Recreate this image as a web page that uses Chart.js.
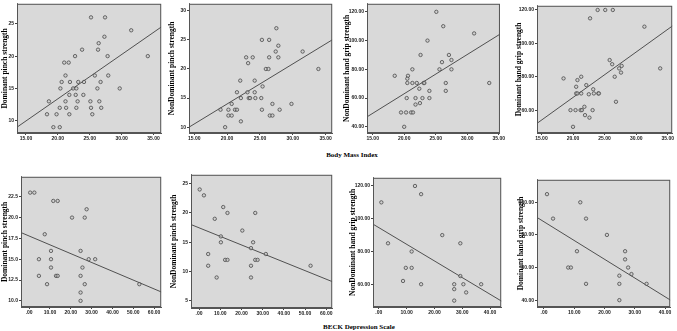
<!DOCTYPE html>
<html>
<head>
<meta charset="utf-8">
<script src="https://cdn.jsdelivr.net/npm/chart.js@4.4.1/dist/chart.umd.min.js"></script>
<style>
body{margin:0;background:#fff;width:677px;height:331px;position:relative;overflow:hidden;}
.pane{position:absolute;}
.xtitle{position:absolute;font:bold 7px "Liberation Serif",serif;color:#000;white-space:nowrap;transform:translate(-50%,-50%);}
</style>
</head>
<body>
<div class="xtitle" style="left:352px;top:155px">Body Mass Index</div>
<div class="xtitle" style="left:359px;top:327px">BECK Depression Scale</div>
<script>
/* ================= DATA ================= */
const bmiTicks=[15,20,25,30,35];
const bmiTickLabels=["15.00","20.00","25.00","30.00","35.00"];
const beckTicks=[0,10,20,30,40,50,60];
const beckTickLabels=[".00","10.00","20.00","30.00","40.00","50.00","60.00"];

/* BMI vs Dominant pinch */
const bmiDomPinchX=[25.2,27.4,31.5,27.3,26.4,26.3,23.8,27.8,34.1,22.7,21.0,21.7,21.2,25.8,27.9,20.6,21.9,23.2,24.1,26.7,20.4,22.4,22.9,26.2,29.7,21.8,22.8,24.0,18.6,21.2,23.1,25.1,26.5,20.3,21.3,22.9,25.2,26.8,18.3,19.8,21.8,25.4,19.3,20.3];
const bmiDomPinchY=[26,26,24,23,22,21,21,20,20,20,19,19,17,17,17,16,16,16,16,16,15,15,15,15,15,14,14,14,13,13,13,13,13,12,12,12,12,12,11,11,11,11,9,9];
const bmiDomPinchLineX=[13.6,36.2];
const bmiDomPinchLineY=[9.0,24.5];
const pinchTicksA=[10,15,20,25];

/* BMI vs NonDominant pinch */
const bmiNonPinchX=[27.5,25.3,26.4,27.8,27.4,31.5,22.9,23.9,26.4,27.8,23.2,25.9,26.3,33.9,22.0,24.2,25.4,21.5,23.1,24.2,22.1,23.3,23.5,24.3,25.2,20.7,26.9,29.8,19.0,20.2,21.2,21.5,25.3,28.0,20.2,20.7,26.5,26.9,22.1,19.7];
const bmiNonPinchY=[27,25,25,24,23,23,22,22,22,22,21,20,20,20,18,18,17,16,16,16,15,15,15,15,15,14,14,14,13,13,13,13,13,13,12,12,12,12,11,10];
const bmiNonPinchLineX=[14.2,36.0];
const bmiNonPinchLineY=[10.0,25.0];
const pinchTicksB=[10,15,20,25,30];

/* BMI vs NonDominant grip */
const bmiNonGripX=[25.1,26.2,31.1,23.7,22.6,27.1,26.0,27.5,21.3,25.6,27.5,18.5,20.6,20.5,20.5,21.3,22.0,23.1,23.2,26.6,33.5,22.4,24.0,26.6,20.4,21.8,22.9,24.0,21.8,22.5,19.5,20.3,21.1,21.4,20.0];
const bmiNonGripY=[120,110,105,100,90,90,85,86.5,80,80,80,75.5,75.5,73.5,70.5,70.5,70.5,70.5,70.5,70.5,70.5,66.5,65,65,60,60,60,60,55.5,56.5,50,50,50,50,40];
const bmiNonGripLineX=[14.2,35.4];
const bmiNonGripLineY=[47.2,105];
const gripTicksA=[40,60,80,100,120];

/* BMI vs Dominant grip */
const bmiDomGripX=[23.9,25.1,26.3,22.7,31.3,25.8,26.2,27.7,27.3,33.8,27.6,26.6,18.5,21.3,20.7,22.1,20.5,23.2,20.5,20.7,21.3,22.5,23.3,24.0,24.1,26.8,19.6,20.4,21.2,21.4,23.1,21.8,21.9,22.6,20.0];
const bmiDomGripY=[120,120,120,115,110,90,87.5,86.5,85,85,82.5,80,79,80,78,75,74,72.5,70,70,70,69.5,70,70,70,65,60,60,60,60,60,62,57,55.5,50];
const bmiDomGripLineX=[14.2,35.8];
const bmiDomGripLineY=[51.8,110.6];
const gripTicksB=[60,80,100,120];

/* BECK vs Dominant pinch */
const beckDomPinchX=[0.5,2.5,11.6,13.7,27.6,20.6,26.7,7.5,10.5,24.7,4.7,10.5,28.6,31.7,10.5,25.6,4.7,12.9,13.7,24.7,8.6,26.7,52.9,24.7,24.7];
const beckDomPinchY=[23,23,22,22,21,20,20,18,16,16,15,15,15,15,14,14,13,13,13,13,12,12,12,11,10];
const beckDomPinchLineX=[-3.9,63.5];
const beckDomPinchLineY=[18.2,11.06];
const pinchTicksC=[10,12.5,15,17.5,20,22.5];
const pinchTickLabelsC=["10.0","12.5","15.0","17.5","20.0","22.5"];

/* BECK vs NonDominant pinch */
const beckNonPinchX=[0.3,2.3,11.4,13.4,26.5,7.4,20.4,10.3,10.3,25.5,24.5,4.3,31.5,12.3,13.4,26.5,27.6,4.3,24.5,52.6,8.3,24.5];
const beckNonPinchY=[24,23,21,20,20,19,17,16,15,15,14,13,13,12,12,12,12,11,11,11,9,9];
const beckNonPinchLineX=[-4.0,62.8];
const beckNonPinchLineY=[18.05,8.3];
const pinchTicksD=[5,10,15,20,25];

/* BECK vs NonDominant grip */
const beckNonGripX=[13.0,15.2,0.9,22.8,29.3,3.3,11.8,9.7,11.8,29.3,8.7,15.2,27.1,30.4,36.8,27.1,31.4,27.1];
const beckNonGripY=[120,115,110,90,85,85,80,70,70,65,62,60,60,60,60,57,55,50];
const beckNonGripLineX=[-2.2,44.3];
const beckNonGripLineY=[96.8,49.5];
const gripTicksC=[60,80,100,120];

/* BECK vs Dominant grip */
const beckDomGripX=[1.0,12.0,3.0,13.9,20.8,10.9,26.8,26.8,27.8,8.0,8.9,28.9,24.9,13.9,24.9,33.9,24.9];
const beckDomGripY=[105,100,90,90,80,70,70,65,60,60,60,56,55,50,50,50,40];
const beckDomGripLineX=[-2.2,41.8];
const beckDomGripLineY=[90.6,40];
const gripTicksD=[40,60,80,100];

const fixed=(d)=>v=>v.toFixed(d);

/* ================= PANELS ================= */
const panels=[
{title:"Dominant pinch strength",x:bmiDomPinchX,y:bmiDomPinchY,lx:bmiDomPinchLineX,ly:bmiDomPinchLineY,
 xt:bmiTicks,xl:bmiTickLabels,yt:pinchTicksA,yf:fixed(0),xr:[13.6,36.2],yr:[8.1,28.1],
 L:1,cl:17,cr:164,ct:1,cb:133},
{title:"NonDominant pinch strength",x:bmiNonPinchX,y:bmiNonPinchY,lx:bmiNonPinchLineX,ly:bmiNonPinchLineY,
 xt:bmiTicks,xl:bmiTickLabels,yt:pinchTicksB,yf:fixed(0),xr:[14.2,36.0],yr:[9.0,31.2],
 L:168,cl:189,cr:335,ct:1,cb:133},
{title:"NonDominant hand grip strength",x:bmiNonGripX,y:bmiNonGripY,lx:bmiNonGripLineX,ly:bmiNonGripLineY,
 xt:bmiTicks,xl:bmiTickLabels,yt:gripTicksA,yf:fixed(2),xr:[14.1,35.2],yr:[35.7,125.6],
 L:343,cl:367,cr:504,ct:1,cb:133},
{title:"Dominant hand grip strength",x:bmiDomGripX,y:bmiDomGripY,lx:bmiDomGripLineX,ly:bmiDomGripLineY,
 xt:bmiTicks,xl:bmiTickLabels,yt:gripTicksB,yf:fixed(2),xr:[14.3,35.7],yr:[46.3,122.5],
 L:515,cl:537,cr:675,ct:3,cb:133},
{title:"Dominant pinch strength",x:beckDomPinchX,y:beckDomPinchY,lx:beckDomPinchLineX,ly:beckDomPinchLineY,
 xt:beckTicks,xl:beckTickLabels,yt:pinchTicksC,yl:pinchTickLabelsC,xr:[-3.9,63.4],yr:[9.26,24.9],
 L:1,cl:21,cr:164,ct:174,cb:307},
{title:"NonDominant pinch strength",x:beckNonPinchX,y:beckNonPinchY,lx:beckNonPinchLineX,ly:beckNonPinchLineY,
 xt:beckTicks,xl:beckTickLabels,yt:pinchTicksD,yf:fixed(0),xr:[-3.8,62.8],yr:[3.8,26.5],
 L:170,cl:191,cr:335,ct:172,cb:308},
{title:"NonDominant hand grip strength",x:beckNonGripX,y:beckNonGripY,lx:beckNonGripLineX,ly:beckNonGripLineY,
 xt:beckTicks.slice(0,5),xl:beckTickLabels,yt:gripTicksC,yf:fixed(2),xr:[-2.1,44.0],yr:[46.1,125],
 L:349,cl:373,cr:504,ct:175,cb:307},
{title:"Dominant hand grip strength",x:beckDomGripX,y:beckDomGripY,lx:beckDomGripLineX,ly:beckDomGripLineY,
 xt:beckTicks.slice(0,5),xl:beckTickLabels,yt:gripTicksD,yf:fixed(2),xr:[-2.3,41.7],yr:[35.8,113.8],
 L:517,cl:537,cr:673,ct:177,cb:307}
];

/* plot background + frame */
const frame={
id:"frame",
beforeDatasetsDraw(c){
const a=c.chartArea,ctx=c.ctx;
ctx.save();
ctx.fillStyle="#d9d9d9";
ctx.fillRect(a.left,a.top,a.right-a.left,a.bottom-a.top);
ctx.restore();
},
afterDraw(c){
const a=c.chartArea,ctx=c.ctx;
ctx.save();
ctx.strokeStyle="#555";
ctx.lineWidth=1;
ctx.strokeRect(a.left+0.5,a.top+0.5,a.right-a.left-1,a.bottom-a.top-1);
ctx.restore();
}
};

const XH=12,PAD_T=2,PAD_R=2;

panels.forEach(p=>{
const div=document.createElement("div");
div.className="pane";
const T=p.ct-PAD_T;
const W=p.cr-p.L+PAD_R;
const H=p.cb-T+XH;
div.style.left=p.L+"px";
div.style.top=T+"px";
div.style.width=W+"px";
div.style.height=H+"px";
const cv=document.createElement("canvas");
div.appendChild(cv);
document.body.appendChild(div);

const pts=p.x.map((v,i)=>({x:v,y:p.y[i]}));
const line=p.lx.map((v,i)=>({x:v,y:p.ly[i]}));

new Chart(cv,{
type:"scatter",
data:{datasets:[
{data:pts,pointRadius:1.7,pointBorderWidth:0.8,borderColor:"#4a4a4a",backgroundColor:"rgba(200,200,200,0.6)"},
{type:"line",data:line,showLine:true,borderColor:"#505050",borderWidth:1,pointRadius:0,fill:false}
]},
options:{
responsive:true,maintainAspectRatio:false,animation:false,
layout:{padding:{top:PAD_T,right:PAD_R,left:0,bottom:0}},
plugins:{legend:{display:false},tooltip:{enabled:false}},
scales:{
x:{type:"linear",min:p.xr[0],max:p.xr[1],
 afterBuildTicks:s=>{s.ticks=p.xt.map(v=>({value:v}));},
 afterFit:s=>{s.height=XH;},
 ticks:{autoSkip:false,maxRotation:0,padding:1,color:"#222",font:{size:5,family:"Liberation Sans",weight:"bold"},
  callback:v=>p.xl[p.xt.indexOf(v)]},
 grid:{drawOnChartArea:false,tickLength:2,color:"#444"},
 border:{color:"#555"}},
y:{type:"linear",min:p.yr[0],max:p.yr[1],
 afterBuildTicks:s=>{s.ticks=p.yt.map(v=>({value:v}));},
 afterFit:s=>{s.width=p.cl-p.L;},
 ticks:{autoSkip:false,padding:1,color:"#222",font:{size:5,family:"Liberation Sans",weight:"bold"},
  callback:v=>p.yl?p.yl[p.yt.indexOf(v)]:p.yf(v)},
 grid:{drawOnChartArea:false,tickLength:2,color:"#444"},
 border:{color:"#555"},
 title:{display:true,text:p.title,color:"#000",padding:0,font:{size:7.5,family:"Liberation Serif",weight:"bold"}}}
}
},
plugins:[frame]
});
});
</script>
</body>
</html>
